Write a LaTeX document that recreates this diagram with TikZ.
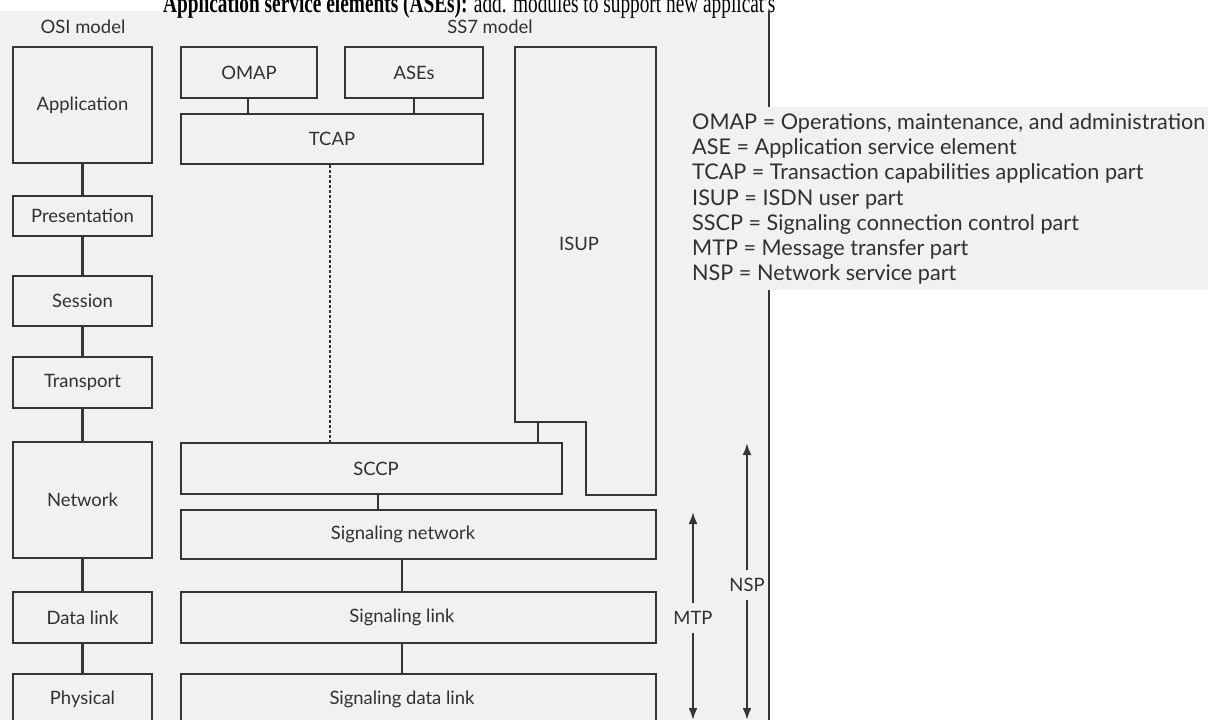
\documentclass[tikz,border=0pt]{standalone}
\usepackage{graphicx}
\usepackage{fontspec}
\setmainfont{Lato}
\newfontfamily\serifttl{Liberation Serif}
\usetikzlibrary{arrows.meta,calc}
\definecolor{bg}{HTML}{F1F1F1}
\definecolor{ink}{HTML}{353535}
\definecolor{txt}{HTML}{303030}
\begin{document}
\begin{tikzpicture}[x=1bp,y=-1bp,
  box/.style={draw=ink, line width=1.7bp, fill=bg, inner sep=0pt, text=txt, font=\fontsize{18.5}{20}\selectfont},
  conn/.style={draw=ink, line width=2.6bp},
  dashconn/.style={draw=ink, line width=1.6bp, dash pattern=on 3bp off 2bp},
  arr/.style={draw=ink, line width=2.2bp, -{Latex[length=12bp,width=9bp]}},
  lbl/.style={text=txt, font=\fontsize{18.5}{20}\selectfont, inner sep=0pt},
  leg/.style={text=txt, font=\fontsize{21.7}{24}\selectfont, inner sep=0pt, anchor=base west}]
\useasboundingbox (0,0) rectangle (1208,720);
\clip (0,0) rectangle (1208,720);
\fill[white] (0,0) rectangle (1208,720);
\fill[bg] (0,11) rectangle (769,720);
% title
\node[anchor=base west, inner sep=0pt, text=black] (title) at (163,13) {\resizebox{612bp}{19bp}{\serifttl\textbf{Application service elements (ASEs):} add. modules to support new applicat's}};
% headings
\node[lbl] (osi) at (83,27) {OSI model};
\node[lbl] (ss7) at (490,27) {SS7 model};
% OSI column
\node[box, minimum width=139bp, minimum height=116bp] (app) at (82.5,105) {Application};
\node[box, minimum width=139bp, minimum height=40bp] (pres) at (82.5,216) {Presentation};
\node[box, minimum width=139bp, minimum height=50bp] (sess) at (82.5,301) {Session};
\node[box, minimum width=139bp, minimum height=51bp] (trans) at (82.5,382.5) {Transport};
\node[box, minimum width=139bp, minimum height=116bp] (net) at (82.5,500) {Network};
\node[box, minimum width=139bp, minimum height=51bp] (dl) at (82.5,617.5) {Data link};
\node[box, minimum width=139bp, minimum height=51bp] (phy) at (82.5,699.5) {Physical};
\draw[conn] (app) -- (pres);
\draw[conn] (pres) -- (sess);
\draw[conn] (sess) -- (trans);
\draw[conn] (trans) -- (net);
\draw[conn] (net) -- (dl);
\draw[conn] (dl) -- (phy);
% SS7 column
\node[box, minimum width=136bp, minimum height=51bp] (omap) at (249,72.5) {OMAP};
\node[box, minimum width=138bp, minimum height=51bp] (ases) at (414,72.5) {ASEs};
\node[box, minimum width=302bp, minimum height=50bp] (tcap) at (332,139) {TCAP};
\draw[ink, line width=1.7bp, fill=bg] (515,47) -- (656,47) -- (656,495) -- (586,495) -- (586,422) -- (515,422) -- cycle;
\node[lbl] (isup) at (579,244) {ISUP};
\node[box, minimum width=381bp, minimum height=51bp] (sccp) at (371.5,468.5) {\hspace*{9bp}SCCP};
\node[box, minimum width=475bp, minimum height=49bp] (signet) at (418.5,534.5) {\hspace*{-31bp}Signaling network};
\node[box, minimum width=475bp, minimum height=51bp] (siglink) at (418.5,617.5) {\hspace*{-33bp}Signaling link};
\node[box, minimum width=475bp, minimum height=51bp] (sigdata) at (418.5,699.5) {\hspace*{-33bp}Signaling data link};
\coordinate (cOmap) at (248,0);
\coordinate (cAses) at (414,0);
\coordinate (cDash) at (330,0);
\coordinate (isupfoot) at (538,422);
\coordinate (cSccp) at (378,0);
\coordinate (cSig) at (402,0);
\draw[conn] (omap.south -| cOmap) -- (tcap.north -| cOmap);
\draw[conn] (ases.south -| cAses) -- (tcap.north -| cAses);
\draw[dashconn] (tcap.south -| cDash) -- (sccp.north -| cDash);
\draw[conn] (isupfoot) -- (isupfoot |- sccp.north);
\draw[conn] (sccp.south -| cSccp) -- (signet.north -| cSccp);
\draw[conn] (signet.south -| cSig) -- (siglink.north -| cSig);
\draw[conn] (siglink.south -| cSig) -- (sigdata.north -| cSig);
% MTP / NSP arrows
\coordinate (mtpT) at (693,512);
\coordinate (mtpB) at (693,720);
\node[lbl, inner ysep=8bp] (mtp) at (693,618) {MTP};
\draw[arr] (mtp) -- (mtpT);
\draw[arr] (mtp) -- (mtpB);
\coordinate (nspT) at (747,443);
\coordinate (nspB) at (747,720);
\node[lbl, inner ysep=8bp] (nsp) at (747,585) {NSP};
\draw[arr] (nsp) -- (nspT);
\draw[arr] (nsp) -- (nspB);
% right border line
\draw[ink, line width=1.8bp] (769,11) -- (769,720);
% legend
\fill[bg] (683,107) rectangle (1208,290);
\node[leg] (l1) at (692,129.5) {OMAP = Operations, maintenance, and administration};
\node[leg] (l2) at (692,154.7) {ASE = Application service element};
\node[leg] (l3) at (692,179.9) {TCAP = Transaction capabilities application part};
\node[leg] (l4) at (692,205.1) {ISUP = ISDN user part};
\node[leg] (l5) at (692,230.3) {SSCP = Signaling connection control part};
\node[leg] (l6) at (692,255.5) {MTP = Message transfer part};
\node[leg] (l7) at (692,280.7) {NSP = Network service part};
\end{tikzpicture}
\end{document}
